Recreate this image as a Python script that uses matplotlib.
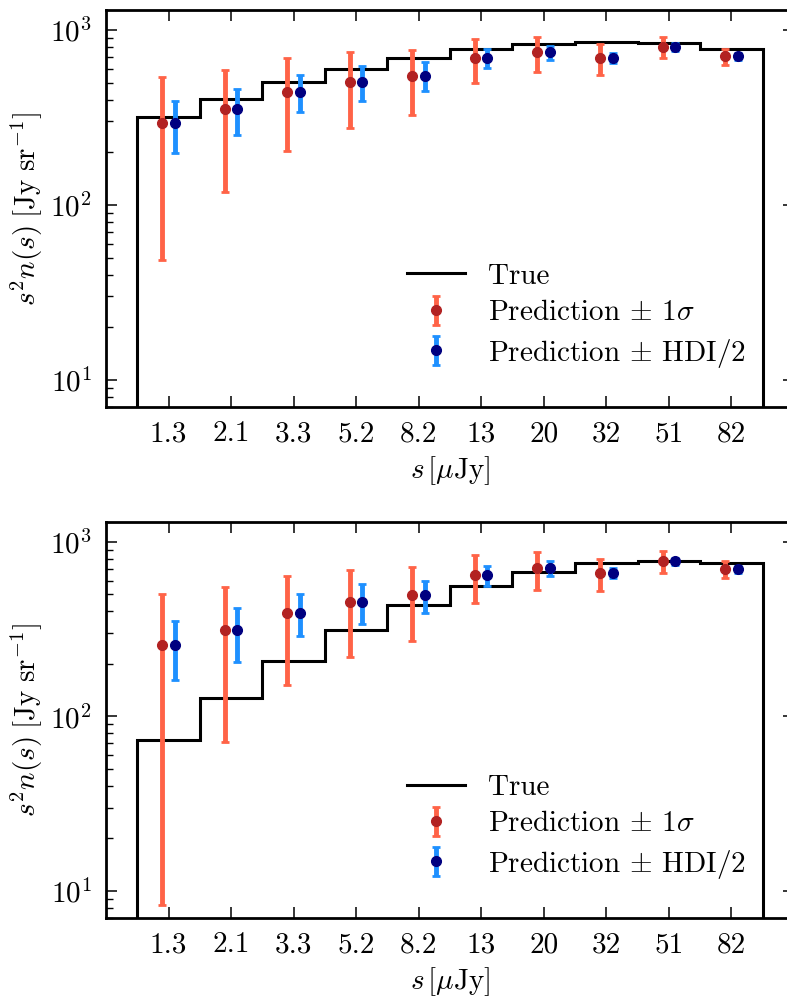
import matplotlib
matplotlib.use('Agg')
import matplotlib.pyplot as plt
import numpy as np

plt.rcParams['font.family'] = 'serif'
plt.rcParams['font.serif'] = ['cmr10', 'DejaVu Serif']
plt.rcParams['mathtext.fontset'] = 'cm'
plt.rcParams['axes.formatter.use_mathtext'] = True
plt.rcParams['font.size'] = 21

# flux bin centres (uJy), shown as tick labels
s_labels = ['1.3', '2.1', '3.3', '5.2', '8.2', '13', '20', '32', '51', '82']

# top panel
true_top = [317, 405, 502, 598, 692, 778, 835, 858, 843, 778]
pred_top = [295, 355, 444, 507, 548, 692, 745, 689, 803, 710]
sig_hi_top = [541, 593, 689, 745, 772, 889, 916, 832, 916, 782]
sig_lo_top = [48.5, 118, 204, 274, 325, 498, 575, 551, 692, 634]
hdi_hi_top = [391, 460, 553, 625, 653, 778, 813, 736, 847, 741]
hdi_lo_top = [198, 251, 339, 393, 448, 604, 674, 647, 762, 674]

# bottom panel
true_bot = [72.9, 127, 207, 313, 434, 562, 671, 752, 782, 759]
pred_bot = [256, 311, 393, 454, 495, 643, 705, 662, 776, 698]
sig_hi_bot = [502, 553, 640, 692, 719, 839, 877, 803, 889, 776]
sig_lo_bot = [8.3, 71.6, 152, 219, 272, 447, 529, 520, 662, 620]
hdi_hi_bot = [354, 416, 502, 573, 598, 726, 776, 710, 813, 729]
hdi_lo_bot = [161, 206, 288, 339, 393, 558, 634, 620, 736, 662]

panels = [
    (true_top, pred_top, sig_lo_top, sig_hi_top, hdi_lo_top, hdi_hi_top),
    (true_bot, pred_bot, sig_lo_bot, sig_hi_bot, hdi_lo_bot, hdi_hi_bot),
]

fig = plt.figure(figsize=(7.87, 10.0), dpi=100)
# right spine sits just outside the figure, as in the cropped original
axes = [fig.add_axes([0.1347, 0.593, 0.874, 0.397]),
        fig.add_axes([0.1347, 0.082, 0.874, 0.396])]

idx = np.arange(len(s_labels))
edges = np.arange(len(s_labels) + 1) - 0.5
dx = 0.1

for ax, (tr, pr, slo, shi, hlo, hhi) in zip(axes, panels):
    tr = np.array(tr)
    pr = np.array(pr)
    ax.stairs(tr, edges, baseline=1, color='k', lw=2.2, label='True')
    ax.errorbar(idx - dx, pr, yerr=[pr - np.array(slo), np.array(shi) - pr],
                fmt='o', color='firebrick', ecolor='tomato', elinewidth=3.5,
                capsize=3, capthick=2, markersize=7,
                label=r'Prediction $\pm$ 1$\sigma$')
    ax.errorbar(idx + dx, pr, yerr=[pr - np.array(hlo), np.array(hhi) - pr],
                fmt='o', color='navy', ecolor='dodgerblue', elinewidth=3.5,
                capsize=3, capthick=2, markersize=7,
                label=r'Prediction $\pm$ HDI/2')
    ax.set_yscale('log')
    ax.set_ylim(7.0, 1300)
    ax.set_xlim(-1.0, 10.0)
    ax.set_xticks(idx)
    ax.set_xticklabels(s_labels)
    ax.set_xlabel(r'$s\,[\mu\mathrm{Jy}]$', labelpad=5)
    ax.set_ylabel(r'$s^2 n(s)\;[\mathrm{Jy\ sr}^{-1}]$', labelpad=4)
    ax.tick_params(which='both', direction='in', top=True, right=True)
    ax.tick_params(which='major', length=8, width=1.1, pad=10)
    ax.tick_params(which='minor', length=5, width=1.0)
    ax.tick_params(axis='x', which='minor', top=False, bottom=False)
    for sp in ax.spines.values():
        sp.set_linewidth(2)
    ax.legend(loc='lower left', bbox_to_anchor=(0.42, 0.065), frameon=False,
              handlelength=2.0, handletextpad=0.8, labelspacing=0.35,
              borderaxespad=0)

plt.savefig('out.png', dpi=100)
